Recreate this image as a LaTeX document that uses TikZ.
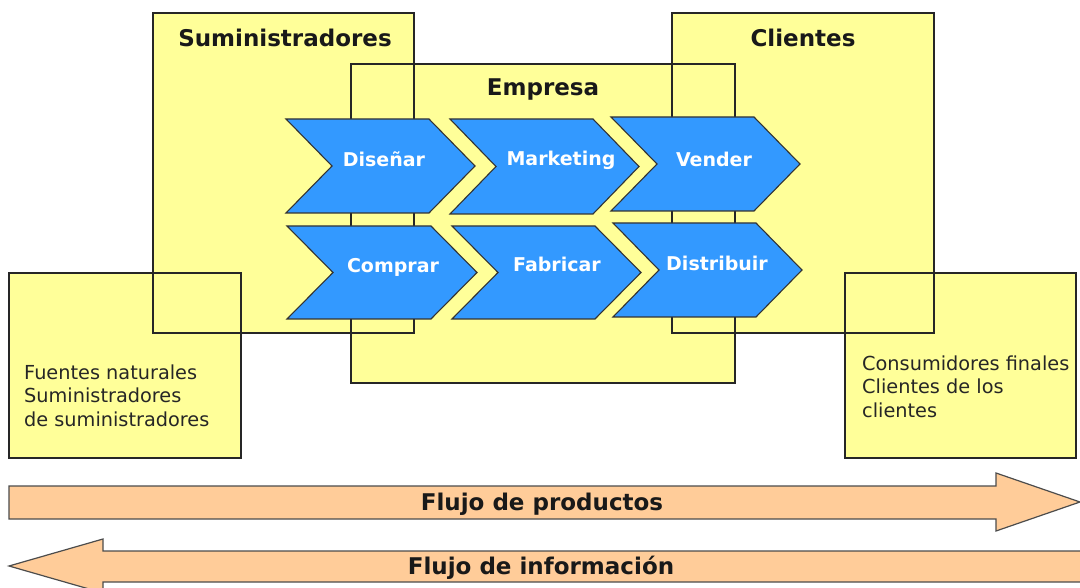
\documentclass[tikz,border=0pt]{standalone}
\usepackage{fontspec}
\setmainfont{DejaVu Sans}
\definecolor{boxyellow}{RGB}{255,255,153}
\definecolor{chevblue}{RGB}{51,153,255}
\definecolor{flowor}{RGB}{255,204,153}
\newcommand\mychev[4]{%
  \draw[chev] (#1,#2) -- (#4,#2) -- ({#4+46},{(#2+#3)/2}) -- (#4,#3) -- (#1,#3) -- ({#1+46},{(#2+#3)/2}) -- cycle;}
\begin{document}
\begin{tikzpicture}[x=1pt,y=-1pt,
  boxfill/.style={fill=boxyellow},
  boxline/.style={draw=black!85,line width=1.3pt},
  chev/.style={fill=chevblue,draw=black!80,line width=1.1pt,line join=miter},
  flow/.style={fill=flowor,draw=black!70,line width=1.2pt},
  title/.style={font=\bfseries\fontsize{23}{27}\selectfont,text=black!90,anchor=base,inner sep=0pt},
  chevtext/.style={font=\bfseries\fontsize{19}{22}\selectfont,text=white,anchor=base,inner sep=0pt},
  small/.style={font=\fontsize{19.3}{23.5}\selectfont,text=black!85,anchor=base west,inner sep=0pt,align=left},
  flowtext/.style={font=\bfseries\fontsize{23}{27}\selectfont,text=black!90,anchor=base,inner sep=0pt}]
\useasboundingbox (0,0) rectangle (1080,588);
\clip (0,0) rectangle (1080,588);
% fills
\fill[boxfill] (153,13) rectangle (414,333);
\fill[boxfill] (672,13) rectangle (934,333);
\fill[boxfill] (351,64) rectangle (735,383);
\fill[boxfill] (9,273) rectangle (241,458);
\fill[boxfill] (845,273) rectangle (1076,458);
% borders
\draw[boxline] (153,13) rectangle (414,333);
\draw[boxline] (672,13) rectangle (934,333);
\draw[boxline] (351,64) rectangle (735,383);
\draw[boxline] (9,273) rectangle (241,458);
\draw[boxline] (845,273) rectangle (1076,458);
% chevrons
\mychev{286}{119}{213}{429}
\mychev{450}{119}{214}{593}
\mychev{611}{117}{211}{754}
\mychev{287}{226}{319}{431}
\mychev{452}{226}{319}{595}
\mychev{613}{223}{317}{756}
% titles
\node[title] (sum) at (285,47) {Suministradores};
\node[title] (cli) at (803,47) {Clientes};
\node[title] (emp) at (543,96) {Empresa};
% chevron labels
\node[chevtext] (dis) at (384,167) {Diseñar};
\node[chevtext] (mkt) at (561,166) {Marketing};
\node[chevtext] (ven) at (714,167) {Vender};
\node[chevtext] (com) at (393,273) {Comprar};
\node[chevtext] (fab) at (557,272) {Fabricar};
\node[chevtext] (dst) at (717,271) {Distribuir};
% side texts
\node[small] (fuentes) at (24,426) {Fuentes naturales\\Suministradores\\de suministradores};
\node[small] (consum) at (862,417) {Consumidores finales\\Clientes de los\\clientes};
% flow arrows
\draw[flow] (9,486) -- (996,486) -- (996,473) -- (1080,502) -- (996,531) -- (996,519) -- (9,519) -- cycle;
\draw[flow] (9,566) -- (103,539) -- (103,551) -- (1095,551) -- (1095,582) -- (103,582) -- (103,593) -- cycle;
\node[flowtext] (prod) at (542,510) {Flujo de productos};
\node[flowtext] (info) at (541,574) {Flujo de información};
\end{tikzpicture}
\end{document}
